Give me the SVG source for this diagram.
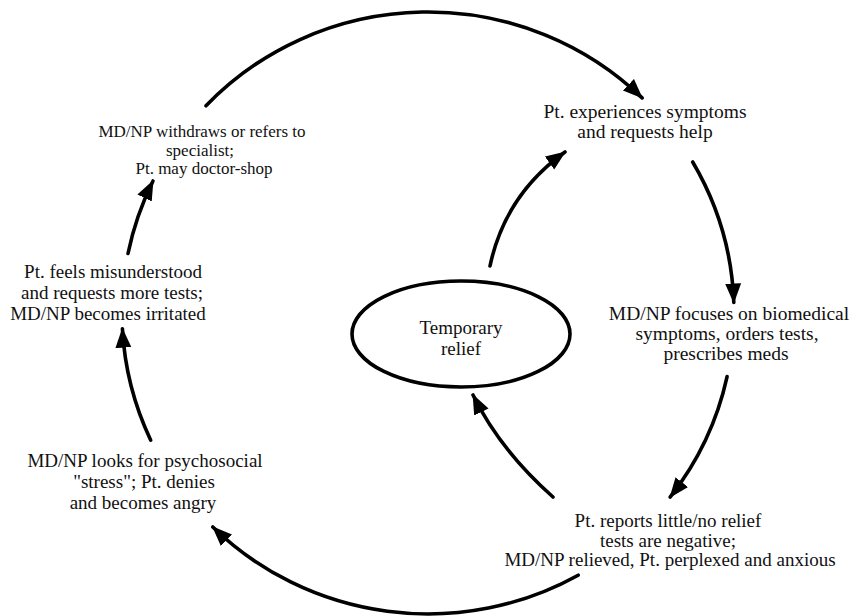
<svg xmlns="http://www.w3.org/2000/svg" width="852" height="616" viewBox="0 0 852 616">
  <style>
    .lbl { font-family: "Liberation Serif", "Times New Roman", serif; font-size: 19px; fill: #111; text-anchor: middle; }
    .sm { font-size: 17px; }
    .lg { font-size: 19.5px; }
    .edge { fill: none; stroke: #000; stroke-width: 3.6; stroke-linecap: round; }
    .ring { fill: #fff; stroke: #000; stroke-width: 3.6; }
  </style>
  <defs>
    <marker id="head" markerUnits="userSpaceOnUse" markerWidth="22" markerHeight="18" refX="19" refY="9" orient="auto">
      <path d="M0,1 L20,9 L0,17 z" fill="#000"/>
    </marker>
  </defs>
  <rect width="852" height="616" fill="#fff"/>

  <g id="connectors">
    <!-- outer loop: arcs of one large ring centred at (428,313), rx 306, ry 301 -->
    <path class="edge" marker-end="url(#head)" d="M206,105.8 A306,301 0 0 1 642.1,97.9"/>
    <path class="edge" marker-end="url(#head)" d="M692.7,162 A306,301 0 0 1 733.8,302.5"/>
    <path class="edge" marker-end="url(#head)" d="M727.1,376.6 A306,301 0 0 1 670.1,497.1"/>
    <path class="edge" marker-end="url(#head)" d="M578.2,575.2 A306,301 0 0 1 212.8,527"/>
    <path class="edge" marker-end="url(#head)" d="M150.7,440.2 A306,301 0 0 1 122.4,328.7"/>
    <path class="edge" marker-end="url(#head)" d="M128,253.5 A306,301 0 0 1 153,181"/>
    <!-- inner loop through temporary relief -->
    <path class="edge" marker-end="url(#head)" d="M553,497 Q500,450 473,395"/>
    <path class="edge" marker-end="url(#head)" d="M490,266 Q505,195 565,152"/>
  </g>

  <g id="relief">
    <ellipse class="ring" cx="461" cy="334" rx="109" ry="53"/>
    <text class="lbl" x="461" y="334">Temporary</text>
    <text class="lbl" x="461" y="355">relief</text>
  </g>

  <g id="symptoms">
    <text class="lbl lg" x="645" y="118">Pt. experiences symptoms</text>
    <text class="lbl lg" x="645" y="138">and requests help</text>
  </g>

  <g id="biomedical">
    <text class="lbl lg" x="729" y="320">MD/NP focuses on biomedical</text>
    <text class="lbl lg" x="727" y="340">symptoms, orders tests,</text>
    <text class="lbl lg" x="726" y="360">prescribes meds</text>
  </g>

  <g id="reports">
    <text class="lbl" x="668" y="527">Pt. reports little/no relief</text>
    <text class="lbl" x="668" y="547">tests are negative;</text>
    <text class="lbl" x="670" y="566">MD/NP relieved, Pt. perplexed and anxious</text>
  </g>

  <g id="psychosocial">
    <text class="lbl" x="145" y="467">MD/NP looks for psychosocial</text>
    <text class="lbl" x="144" y="488">"stress"; Pt. denies</text>
    <text class="lbl" x="143" y="509">and becomes angry</text>
  </g>

  <g id="misunderstood">
    <text class="lbl" x="113" y="278">Pt. feels misunderstood</text>
    <text class="lbl" x="112" y="299">and requests more tests;</text>
    <text class="lbl" x="108" y="320">MD/NP becomes irritated</text>
  </g>

  <g id="withdraws">
    <text class="lbl sm" x="202" y="137">MD/NP withdraws or refers to</text>
    <text class="lbl sm" x="200" y="156">specialist;</text>
    <text class="lbl sm" x="204" y="174">Pt. may doctor-shop</text>
  </g>
</svg>
